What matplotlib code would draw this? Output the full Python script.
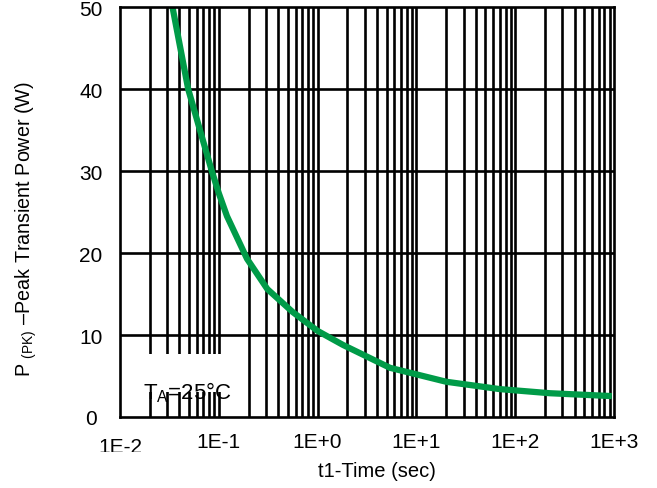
import numpy as np
import matplotlib
matplotlib.use('Agg')
import matplotlib.pyplot as plt
from matplotlib.patches import Rectangle
from matplotlib.transforms import Bbox

plt.rcParams['font.family'] = ['Liberation Sans', 'DejaVu Sans']
plt.rcParams['mathtext.fontset'] = 'custom'
plt.rcParams['mathtext.rm'] = 'Liberation Sans'
plt.rcParams['mathtext.it'] = 'Liberation Sans'

# pulse width (sec) and peak transient power (W)
t1 = [0.034, 0.049, 0.07, 0.085, 0.1, 0.121, 0.193, 0.31, 0.56, 1.0, 1.8, 5.4, 20, 70, 224, 950]
p_pk = [50, 40, 33.5, 30, 27.3, 24.5, 19.3, 15.6, 12.8, 10.5, 8.8, 6.0, 4.3, 3.4, 2.9, 2.55]

xticks = [1e-2, 1e-1, 1e0, 1e1, 1e2, 1e3]
xlabels = ['1E-2', '1E-1', '1E+0', '1E+1', '1E+2', '1E+3']
yticks = [0, 10, 20, 30, 40, 50]

fig = plt.figure(figsize=(6.57, 4.89), dpi=100)
ax = fig.add_axes([0.1826, 0.1452, 0.752, 0.8384])

ax.set_xscale('log')
ax.set_xlim(1e-2, 1e3)
ax.set_ylim(0, 50)

# grid: every decade sub-division on x, every 10 W on y
minors = [k * 10.0 ** d for d in range(-2, 3) for k in range(2, 10)]
for v in minors + xticks[1:-1]:
    ax.axvline(v, color='black', lw=1.9, zorder=1)
for v in yticks[1:-1]:
    ax.axhline(v, color='black', lw=1.9, zorder=1)

# white patch behind the temperature note
ax.add_patch(Rectangle((0.0102, 3.1), 0.106 - 0.0102, 4.6, facecolor='white',
                       edgecolor='none', zorder=2))
ax.text(0.0171, 2.3, r'T$_{\mathrm{A}}$=25°C', fontsize=16, va='baseline', zorder=2.5)

ax.plot(t1, p_pk, color='#009B48', lw=4.5, solid_capstyle='butt', zorder=3)

ax.set_xticks(xticks)
ax.set_xticklabels(xlabels, fontsize=15)
ax.xaxis.set_minor_locator(matplotlib.ticker.NullLocator())
ax.set_yticks(yticks)
ax.set_yticklabels([str(v) for v in yticks], fontsize=15, ha='center')
ax.tick_params(axis='both', length=0)
ax.tick_params(axis='x', pad=11)
ax.tick_params(axis='y', pad=21)

# first x label sits a bit lower and is cut off at the bottom
lbl0 = ax.get_xticklabels()[0]
lbl0.set_y(-0.012)
lbl0.set_clip_on(True)
lbl0.set_clip_box(Bbox([[0, 36], [657, 489]]))

for s in ax.spines.values():
    s.set_color('black')
    s.set_linewidth(1.9)
    s.set_zorder(4)

ax.set_xlabel('t1-Time (sec)', fontsize=14.5)
ax.xaxis.set_label_coords(0.52, -0.107)
ax.set_ylabel(r'P $_{\mathrm{(PK)}}$ –Peak Transient Power (W)', fontsize=14.2)
ax.yaxis.set_label_coords(-0.164, 0.461)

plt.savefig('out.png', dpi=100)
